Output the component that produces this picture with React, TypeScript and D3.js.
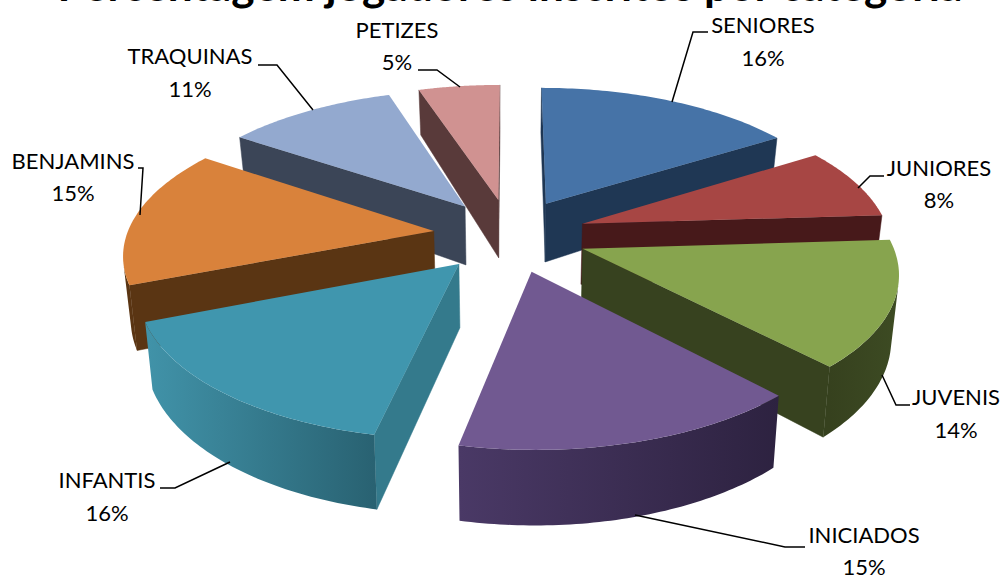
import React from "react";
import * as d3 from "d3";

const titleText = "Percentagem jogadores inscritos por categoria";
const categories = ["SENIORES", "JUNIORES", "JUVENIS", "INICIADOS", "INFANTIS", "BENJAMINS", "TRAQUINAS", "PETIZES"];
const percentages = [16, 8, 14, 15.3, 15.7, 15.49, 10.51, 5];
const topColors = ["#4673a7", "#a74644", "#87a44e", "#715991", "#4096ae", "#d9823b", "#93a9cf", "#d09291"];
const wallStartColors = ["#1f3754", "#47191a", "#37421f", "#33254a", "#347a8c", "#5a3513", "#3b4557", "#593a3a"];
const wallEndColors = ["#1f3754", "#47191a", "#37421f", "#33254a", "#347a8c", "#5a3513", "#3b4557", "#593a3a"];
const rimStartColors = ["#1f3754", "#47191a", "#3d4b23", "#2d2240", "#296272", "#5a3513", "#3b4557", "#593a3a"];
const rimEndColors = ["#1f3754", "#47191a", "#36411e", "#4a3966", "#4193a9", "#5a3513", "#3b4557", "#593a3a"];
const paintOrder = [7, 0, 6, 1, 5, 2, 4, 3];

// label layout
const labelX = [763, 939, 956, 864, 107, 73, 190, 397];
const labelNameY = [33, 176, 405, 543, 488, 169, 64, 38];
const labelPctY = [66, 208, 438, 575, 521, 201, 97, 70];
const leaders: [number, number][][] = [
  [[708, 32], [693, 32], [672, 102]],
  [[884, 176], [870, 176], [858, 188]],
  [[910, 405], [896, 405], [882, 375]],
  [[805, 547], [785, 547], [635, 515]],
  [[160, 488], [175, 488], [230, 462]],
  [[138, 168], [143, 168], [140, 215]],
  [[258, 65], [277, 65], [313, 110]],
  [[418, 70], [437, 70], [460, 87]],
];

const cx = 510, cy = 235, R = 307, ex = 77, ev = 80, persp = 0.000468, tilt = 0.459, h0 = 62;

type P = [number, number];
const project = (u: number, v: number): P => {
  const s = 1 / (1 - persp * v);
  return [cx + u * s, cy + tilt * v * s];
};
const bottomOf = (u: number, v: number): P => {
  const s = 1 / (1 - persp * v);
  const [x, y] = project(u, v);
  const h = h0 * (s < 1 ? s * s : s);
  return [cx + (x - cx) * 0.98, y + h];
};
const area = (q: P[]) => {
  let a = 0;
  for (let i = 0; i < q.length; i++) {
    const [x1, y1] = q[i];
    const [x2, y2] = q[(i + 1) % q.length];
    a += x1 * y2 - x2 * y1;
  }
  return a / 2;
};

const pieGen = d3.pie<number>().sort(null).value((d) => d);
const arcs = pieGen(percentages);
const line = d3.line<P>().x((d) => d[0]).y((d) => d[1]);
const closed = (q: P[]) => line(q) + "Z";

export default function App() {
  const slices = paintOrder.map((i) => {
    const a = arcs[i];
    const mid = (a.startAngle + a.endAngle) / 2;
    const ou = ex * Math.sin(mid), ov = -ev * Math.cos(mid);
    const pt = (ang: number): [number, number] => [ou + R * Math.sin(ang), ov - R * Math.cos(ang)];
    const n = 60;
    const angs = d3.range(n + 1).map((k) => a.startAngle + ((a.endAngle - a.startAngle) * k) / n);
    const rim = angs.map(pt);
    const apexP = project(ou, ov);
    const apexB = bottomOf(ou, ov);
    const walls: { d: string; fill: string }[] = [];
    const s0 = rim[0], s1 = rim[n];
    const wallS: P[] = [apexP, project(s0[0], s0[1]), bottomOf(s0[0], s0[1]), apexB];
    const wallE: P[] = [project(s1[0], s1[1]), apexP, apexB, bottomOf(s1[0], s1[1])];
    if (area(wallS) < 0) walls.push({ d: closed(wallS), fill: wallStartColors[i] });
    if (area(wallE) < 0) walls.push({ d: closed(wallE), fill: wallEndColors[i] });
    const vis: number[] = [];
    for (let k = 0; k < n; k++) {
      const p = rim[k], q = rim[k + 1];
      const quad: P[] = [project(p[0], p[1]), project(q[0], q[1]), bottomOf(q[0], q[1]), bottomOf(p[0], p[1])];
      if (area(quad) < 0) { vis.push(k); if (!vis.includes(k + 1)) vis.push(k + 1); }
    }
    const uniq = Array.from(new Set(vis)).sort((x, y) => x - y);
    const upper = uniq.map((k) => project(rim[k][0], rim[k][1]));
    const lower = uniq.map((k) => bottomOf(rim[k][0], rim[k][1])).reverse();
    const rimPath = uniq.length > 1 ? closed([...upper, ...lower]) : null;
    const top: P[] = [apexP, ...rim.map((p) => project(p[0], p[1]))];
    return {
      i, walls, rimPath, top: closed(top),
      gx1: uniq.length ? upper[0][0] : 0,
      gx2: uniq.length ? upper[upper.length - 1][0] : 1,
    };
  });

  return (
    <svg width={1005} height={579} style={{ position: "absolute", left: 0, top: 0, display: "block", background: "#fff" }}>
      <defs>
        {slices.map((s) => (
          <linearGradient key={s.i} id={`rim${s.i}`} gradientUnits="userSpaceOnUse" x1={s.gx1} x2={s.gx2} y1={0} y2={0}>
            <stop offset="0" stopColor={rimStartColors[s.i]} />
            <stop offset="1" stopColor={rimEndColors[s.i]} />
          </linearGradient>
        ))}
      </defs>
      <text x={510} y={1} textAnchor="middle" fontFamily="Lato, sans-serif" fontWeight={700} fontSize={44} textLength={905} lengthAdjust="spacingAndGlyphs" fill="#000">{titleText}</text>
      {slices.map((s) => (
        <g key={s.i}>
          {s.walls.map((f, j) => (
            <path key={j} d={f.d} fill={f.fill} stroke={f.fill} strokeWidth={0.5} />
          ))}
          {s.rimPath && <path d={s.rimPath} fill={`url(#rim${s.i})`} />}
          <path d={s.top} fill={topColors[s.i]} />
        </g>
      ))}
      {leaders.map((l, i) => (
        <path key={i} d={line(l) as string} fill="none" stroke="#000" strokeWidth={1.5} />
      ))}
      {categories.map((c, i) => (
        <g key={c} fontFamily="Lato, sans-serif" fontSize={22} textAnchor="middle" fill="#000">
          <text x={labelX[i]} y={labelNameY[i]}>{c}</text>
          <text x={labelX[i]} y={labelPctY[i]}>{Math.round(percentages[i])}%</text>
        </g>
      ))}
    </svg>
  );
}
